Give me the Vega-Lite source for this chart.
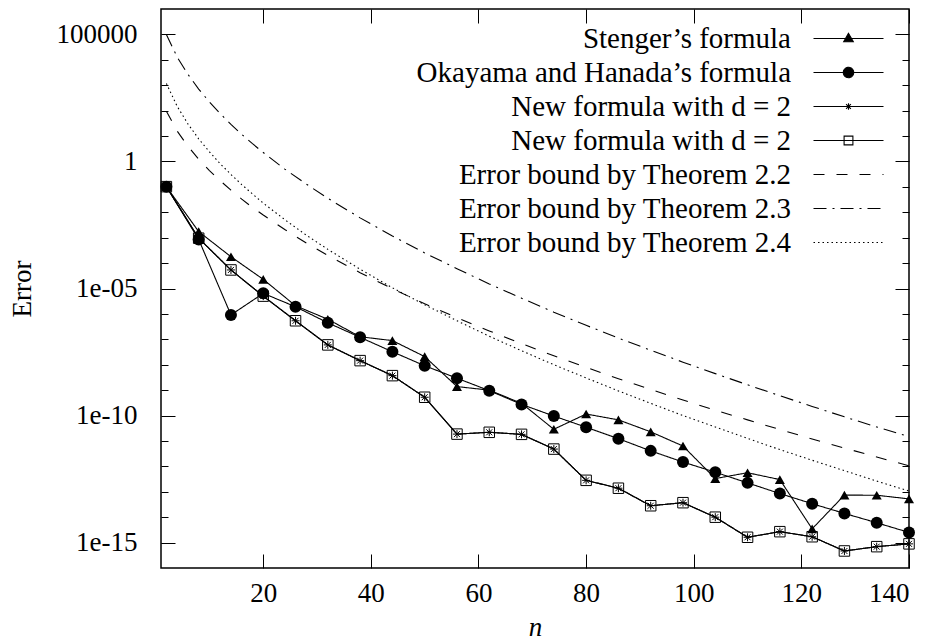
{
  "$schema": "https://vega.github.io/schema/vega-lite/v6.json",
  "width": 748,
  "height": 559,
  "autosize": {"type": "none"},
  "padding": {"left": 161, "top": 9, "right": 24, "bottom": 72},
  "background": "white",
  "datasets": {
    "all": [
      {"n":2,"e":0.102,"s":"st"},{"n":8,"e":1.74e-3,"s":"st"},{"n":14,"e":1.78e-4,"s":"st"},{"n":20,"e":2.29e-5,"s":"st"},{"n":26,"e":2.09e-6,"s":"st"},{"n":32,"e":6.17e-7,"s":"st"},{"n":38,"e":1.26e-7,"s":"st"},{"n":44,"e":8.91e-8,"s":"st"},{"n":50,"e":2.09e-8,"s":"st"},{"n":56,"e":1.38e-9,"s":"st"},{"n":62,"e":1.0e-9,"s":"st"},{"n":68,"e":3.02e-10,"s":"st"},{"n":74,"e":2.88e-11,"s":"st"},{"n":80,"e":1.15e-10,"s":"st"},{"n":86,"e":6.76e-11,"s":"st"},{"n":92,"e":2.29e-11,"s":"st"},{"n":98,"e":6.31e-12,"s":"st"},{"n":104,"e":3.31e-13,"s":"st"},{"n":110,"e":5.62e-13,"s":"st"},{"n":116,"e":3.02e-13,"s":"st"},{"n":122,"e":3.47e-15,"s":"st"},{"n":128,"e":7.41e-14,"s":"st"},{"n":134,"e":7.3e-14,"s":"st"},{"n":140,"e":5.25e-14,"s":"st"},
      {"n":2,"e":0.102,"s":"oh"},{"n":8,"e":8.51e-4,"s":"oh"},{"n":14,"e":9.12e-7,"s":"oh"},{"n":20,"e":6.46e-6,"s":"oh"},{"n":26,"e":1.91e-6,"s":"oh"},{"n":32,"e":4.47e-7,"s":"oh"},{"n":38,"e":1.20e-7,"s":"oh"},{"n":44,"e":3.24e-8,"s":"oh"},{"n":50,"e":9.12e-9,"s":"oh"},{"n":56,"e":2.95e-9,"s":"oh"},{"n":62,"e":9.55e-10,"s":"oh"},{"n":68,"e":2.75e-10,"s":"oh"},{"n":74,"e":9.55e-11,"s":"oh"},{"n":80,"e":3.47e-11,"s":"oh"},{"n":86,"e":1.23e-11,"s":"oh"},{"n":92,"e":4.07e-12,"s":"oh"},{"n":98,"e":1.48e-12,"s":"oh"},{"n":104,"e":5.89e-13,"s":"oh"},{"n":110,"e":2.24e-13,"s":"oh"},{"n":116,"e":8.51e-14,"s":"oh"},{"n":122,"e":3.39e-14,"s":"oh"},{"n":128,"e":1.41e-14,"s":"oh"},{"n":134,"e":6.03e-15,"s":"oh"},{"n":140,"e":2.51e-15,"s":"oh"},
      {"n":2,"e":0.102,"s":"n1"},{"n":8,"e":9.55e-4,"s":"n1"},{"n":14,"e":5.37e-5,"s":"n1"},{"n":20,"e":5.01e-6,"s":"n1"},{"n":26,"e":5.37e-7,"s":"n1"},{"n":32,"e":6.03e-8,"s":"n1"},{"n":38,"e":1.45e-8,"s":"n1"},{"n":44,"e":3.72e-9,"s":"n1"},{"n":50,"e":5.25e-10,"s":"n1"},{"n":56,"e":1.86e-11,"s":"n1"},{"n":62,"e":2.19e-11,"s":"n1"},{"n":68,"e":1.82e-11,"s":"n1"},{"n":74,"e":4.79e-12,"s":"n1"},{"n":80,"e":2.82e-13,"s":"n1"},{"n":86,"e":1.38e-13,"s":"n1"},{"n":92,"e":2.82e-14,"s":"n1"},{"n":98,"e":3.72e-14,"s":"n1"},{"n":104,"e":1.0e-14,"s":"n1"},{"n":110,"e":1.62e-15,"s":"n1"},{"n":116,"e":2.69e-15,"s":"n1"},{"n":122,"e":1.70e-15,"s":"n1"},{"n":128,"e":4.68e-16,"s":"n1"},{"n":134,"e":6.92e-16,"s":"n1"},{"n":140,"e":8.91e-16,"s":"n1"},
      {"n":2,"e":0.102,"s":"n2"},{"n":8,"e":9.55e-4,"s":"n2"},{"n":14,"e":5.37e-5,"s":"n2"},{"n":20,"e":5.01e-6,"s":"n2"},{"n":26,"e":5.37e-7,"s":"n2"},{"n":32,"e":6.03e-8,"s":"n2"},{"n":38,"e":1.45e-8,"s":"n2"},{"n":44,"e":3.72e-9,"s":"n2"},{"n":50,"e":5.25e-10,"s":"n2"},{"n":56,"e":1.86e-11,"s":"n2"},{"n":62,"e":2.19e-11,"s":"n2"},{"n":68,"e":1.82e-11,"s":"n2"},{"n":74,"e":4.79e-12,"s":"n2"},{"n":80,"e":2.82e-13,"s":"n2"},{"n":86,"e":1.38e-13,"s":"n2"},{"n":92,"e":2.82e-14,"s":"n2"},{"n":98,"e":3.72e-14,"s":"n2"},{"n":104,"e":1.0e-14,"s":"n2"},{"n":110,"e":1.62e-15,"s":"n2"},{"n":116,"e":2.69e-15,"s":"n2"},{"n":122,"e":1.70e-15,"s":"n2"},{"n":128,"e":4.68e-16,"s":"n2"},{"n":134,"e":6.92e-16,"s":"n2"},{"n":140,"e":8.91e-16,"s":"n2"},
      {"n":2,"e":95.5,"s":"b22"},{"n":4,"e":15.8,"s":"b22"},{"n":6,"e":3.98,"s":"b22"},{"n":8,"e":1.23,"s":"b22"},{"n":10,"e":0.437,"s":"b22"},{"n":12,"e":0.174,"s":"b22"},{"n":14,"e":7.41e-2,"s":"b22"},{"n":16,"e":3.31e-2,"s":"b22"},{"n":18,"e":1.55e-2,"s":"b22"},{"n":20,"e":7.76e-3,"s":"b22"},{"n":24,"e":2.09e-3,"s":"b22"},{"n":28,"e":6.17e-4,"s":"b22"},{"n":32,"e":2.0e-4,"s":"b22"},{"n":38,"e":4.17e-5,"s":"b22"},{"n":44,"e":9.77e-6,"s":"b22"},{"n":50,"e":2.51e-6,"s":"b22"},{"n":56,"e":7.08e-7,"s":"b22"},{"n":62,"e":2.14e-7,"s":"b22"},{"n":68,"e":6.76e-8,"s":"b22"},{"n":74,"e":2.24e-8,"s":"b22"},{"n":80,"e":7.94e-9,"s":"b22"},{"n":86,"e":2.82e-9,"s":"b22"},{"n":92,"e":1.07e-9,"s":"b22"},{"n":98,"e":4.07e-10,"s":"b22"},{"n":104,"e":1.62e-10,"s":"b22"},{"n":110,"e":6.76e-11,"s":"b22"},{"n":116,"e":2.82e-11,"s":"b22"},{"n":122,"e":1.20e-11,"s":"b22"},{"n":128,"e":5.25e-12,"s":"b22"},{"n":134,"e":2.34e-12,"s":"b22"},{"n":140,"e":1.05e-12,"s":"b22"},
      {"n":2,"e":1.0e5,"s":"b23"},{"n":4,"e":1.29e4,"s":"b23"},{"n":6,"e":2.69e3,"s":"b23"},{"n":8,"e":708,"s":"b23"},{"n":10,"e":219,"s":"b23"},{"n":12,"e":75.9,"s":"b23"},{"n":14,"e":28.8,"s":"b23"},{"n":16,"e":11.7,"s":"b23"},{"n":18,"e":5.01,"s":"b23"},{"n":20,"e":2.24,"s":"b23"},{"n":24,"e":0.501,"s":"b23"},{"n":28,"e":0.129,"s":"b23"},{"n":32,"e":3.55e-2,"s":"b23"},{"n":38,"e":6.03e-3,"s":"b23"},{"n":44,"e":1.17e-3,"s":"b23"},{"n":50,"e":2.51e-4,"s":"b23"},{"n":56,"e":6.03e-5,"s":"b23"},{"n":62,"e":1.51e-5,"s":"b23"},{"n":68,"e":4.17e-6,"s":"b23"},{"n":74,"e":1.17e-6,"s":"b23"},{"n":80,"e":3.55e-7,"s":"b23"},{"n":86,"e":1.12e-7,"s":"b23"},{"n":92,"e":3.72e-8,"s":"b23"},{"n":98,"e":1.26e-8,"s":"b23"},{"n":104,"e":4.47e-9,"s":"b23"},{"n":110,"e":1.62e-9,"s":"b23"},{"n":116,"e":6.03e-10,"s":"b23"},{"n":122,"e":2.29e-10,"s":"b23"},{"n":128,"e":8.91e-11,"s":"b23"},{"n":134,"e":3.55e-11,"s":"b23"},{"n":140,"e":1.48e-11,"s":"b23"},
      {"n":2,"e":1170,"s":"b24"},{"n":4,"e":148,"s":"b24"},{"n":6,"e":30.2,"s":"b24"},{"n":8,"e":7.76,"s":"b24"},{"n":10,"e":2.40,"s":"b24"},{"n":12,"e":0.813,"s":"b24"},{"n":14,"e":0.309,"s":"b24"},{"n":16,"e":0.123,"s":"b24"},{"n":18,"e":5.25e-2,"s":"b24"},{"n":20,"e":2.29e-2,"s":"b24"},{"n":24,"e":5.13e-3,"s":"b24"},{"n":28,"e":1.26e-3,"s":"b24"},{"n":32,"e":3.47e-4,"s":"b24"},{"n":38,"e":5.75e-5,"s":"b24"},{"n":44,"e":1.07e-5,"s":"b24"},{"n":50,"e":2.29e-6,"s":"b24"},{"n":56,"e":5.37e-7,"s":"b24"},{"n":62,"e":1.32e-7,"s":"b24"},{"n":68,"e":3.55e-8,"s":"b24"},{"n":74,"e":1.0e-8,"s":"b24"},{"n":80,"e":3.02e-9,"s":"b24"},{"n":86,"e":9.33e-10,"s":"b24"},{"n":92,"e":3.02e-10,"s":"b24"},{"n":98,"e":1.0e-10,"s":"b24"},{"n":104,"e":3.55e-11,"s":"b24"},{"n":110,"e":1.26e-11,"s":"b24"},{"n":116,"e":4.57e-12,"s":"b24"},{"n":122,"e":1.74e-12,"s":"b24"},{"n":128,"e":6.76e-13,"s":"b24"},{"n":134,"e":2.63e-13,"s":"b24"},{"n":140,"e":1.07e-13,"s":"b24"}
    ]
  },
  "data": {"name": "all"},
  "resolve": {"axis": {"x": "independent", "y": "independent"}},
  "config": {
    "view": {"stroke": "black", "strokeWidth": 1.5},
    "font": "Liberation Serif",
    "legend": {"labelFont": "Liberation Serif", "labelFontSize": 29, "labelColor": "black"},
    "axis": {
      "labelFont": "Liberation Serif", "labelFontSize": 27, "labelColor": "black",
      "titleFont": "Liberation Serif", "titleFontSize": 27, "titleColor": "black", "titleFontWeight": "normal",
      "tickColor": "black", "tickWidth": 1, "grid": false, "domain": false
    }
  },
  "layer": [
    {
      "mark": {"type": "line", "color": "black", "strokeWidth": 1.1},
      "encoding": {
        "x": {"field": "n", "type": "quantitative", "scale": {"domain": [1, 140], "nice": false, "zero": false},
          "axis": {"orient": "bottom", "values": [20, 40, 60, 80, 100, 120, 140], "ticks": false, "labelPadding": 12,
            "title": "n", "titleFontStyle": "italic", "titleX": 374, "titleY": 59, "titleBaseline": "middle", "titleAlign": "center"}},
        "y": {"field": "e", "type": "quantitative", "scale": {"type": "log", "domain": [1e-16, 1e6], "nice": false},
          "axis": {"orient": "left", "values": [1e-15, 1e-10, 1e-5, 1, 1e5], "ticks": false, "labelPadding": 24,
            "labelExpr": "datum.value >= 1 ? '' + round(datum.value) : '1e-' + (round(-log(datum.value) / LN10) < 10 ? '0' : '') + round(-log(datum.value) / LN10)",
            "title": "Error", "titleX": -139, "titleY": 279.5, "titleAngle": -90, "titleBaseline": "middle", "titleAlign": "center"}},
        "strokeDash": {"field": "s", "type": "nominal",
          "scale": {"domain": ["st", "oh", "n1", "n2", "b22", "b23", "b24"],
            "range": [[1, 0], [1, 0], [1, 0], [1, 0], [11, 12], [13, 6, 2, 6], [1.5, 3]]},
          "legend": {
            "orient": "none", "legendX": 673, "legendY": 15, "title": null, "padding": 0,
            "labelExpr": "datum.value === 'st' ? 'Stenger’s formula' : datum.value === 'oh' ? 'Okayama and Hanada’s formula' : datum.value === 'n1' ? 'New formula with d = 2' : datum.value === 'n2' ? 'New formula with d = 2' : datum.value === 'b22' ? 'Error bound by Theorem 2.2' : datum.value === 'b23' ? 'Error bound by Theorem 2.3' : 'Error bound by Theorem 2.4'",
            "labelAlign": "right", "labelOffset": -72, "labelFont": "Liberation Serif", "labelFontSize": 29, "labelColor": "black", "labelLimit": 800,
            "symbolSize": 16, "symbolStrokeWidth": 1.1, "symbolStrokeColor": "black", "rowPadding": 4,
            "encode": {
              "labels": {
                "update": {
                  "font": {"value": "Liberation Serif"},
                  "fontSize": {"value": 29},
                  "fill": {"value": "black"}
                }
              },
              "symbols": {
                "update": {
                  "shape": {"signal": "datum.value === 'st' ? 'M-17.5,0H17.5M0,-2.6L2.4,1.6L-2.4,1.6Z' : datum.value === 'oh' ? 'M-17.5,0H17.5M-2.6,0A2.6,2.6,0,1,0,2.6,0A2.6,2.6,0,1,0,-2.6,0Z' : datum.value === 'n1' ? 'M-17.5,0H17.5M-1.6,0H1.6M0,-1.6V1.6M-1.2,-1.2L1.2,1.2M-1.2,1.2L1.2,-1.2' : datum.value === 'n2' ? 'M-17.5,0H17.5M-2.2,-2.2H2.2V2.2H-2.2Z' : 'M-17.5,0H17.5'"},
                  "fill": {"signal": "datum.value === 'st' || datum.value === 'oh' ? 'black' : 'transparent'"},
                  "stroke": {"value": "black"},
                  "strokeWidth": {"value": 1.1},
                  "opacity": {"value": 1}
                }
              }
            }
          }}
      }
    },
    {
      "transform": [{"filter": "datum.s === 'st'"}],
      "mark": {"type": "point", "shape": "triangle-up", "filled": true, "color": "black", "size": 100, "opacity": 1},
      "encoding": {
        "x": {"field": "n", "type": "quantitative", "scale": {"domain": [1, 140], "nice": false, "zero": false},
          "axis": {"orient": "bottom", "values": [20, 40, 60, 80, 100, 120, 140], "labels": false, "tickSize": -14, "title": null}},
        "y": {"field": "e", "type": "quantitative", "scale": {"type": "log", "domain": [1e-16, 1e6], "nice": false},
          "axis": {"orient": "left", "values": [1e-15, 1e-10, 1e-5, 1, 1e5], "labels": false, "tickSize": -14, "title": null}}
      }
    },
    {
      "transform": [{"filter": "datum.s === 'oh'"}],
      "mark": {"type": "point", "shape": "circle", "filled": true, "color": "black", "size": 144, "opacity": 1},
      "encoding": {
        "x": {"field": "n", "type": "quantitative", "scale": {"domain": [1, 140], "nice": false, "zero": false},
          "axis": {"orient": "top", "values": [20, 40, 60, 80, 100, 120, 140], "labels": false, "tickSize": -14, "title": null}},
        "y": {"field": "e", "type": "quantitative", "scale": {"type": "log", "domain": [1e-16, 1e6], "nice": false},
          "axis": {"orient": "right", "values": [1e-15, 1e-10, 1e-5, 1, 1e5], "labels": false, "tickSize": -14, "title": null}}
      }
    },
    {
      "transform": [{"filter": "datum.s === 'n1'"}],
      "mark": {"type": "point", "shape": "M-0.8,0H0.8M0,-0.8V0.8M-0.6,-0.6L0.6,0.6M-0.6,0.6L0.6,-0.6", "filled": false, "stroke": "black", "strokeWidth": 1, "size": 100, "opacity": 1},
      "encoding": {
        "x": {"field": "n", "type": "quantitative", "scale": {"domain": [1, 140], "nice": false, "zero": false}, "axis": null},
        "y": {"field": "e", "type": "quantitative", "scale": {"type": "log", "domain": [1e-16, 1e6], "nice": false},
          "axis": {"orient": "left", "values": [1e-15, 1e-14, 1e-13, 1e-12, 1e-11, 1e-9, 1e-8, 1e-7, 1e-6, 1e-4, 1e-3, 1e-2, 1e-1, 10, 100, 1000, 10000], "labels": false, "tickSize": -7, "title": null}}
      }
    },
    {
      "transform": [{"filter": "datum.s === 'n2'"}],
      "mark": {"type": "point", "shape": "square", "filled": false, "stroke": "black", "strokeWidth": 1, "size": 110, "opacity": 1},
      "encoding": {
        "x": {"field": "n", "type": "quantitative", "scale": {"domain": [1, 140], "nice": false, "zero": false}, "axis": null},
        "y": {"field": "e", "type": "quantitative", "scale": {"type": "log", "domain": [1e-16, 1e6], "nice": false},
          "axis": {"orient": "right", "values": [1e-14, 1e-13, 1e-12, 1e-11, 1e-9, 1e-8, 1e-7, 1e-6, 1e-4, 1e-3, 1e-2, 1e-1, 10, 100, 1000, 10000], "labels": false, "tickSize": -7, "title": null}}
      }
    }
  ]
}
